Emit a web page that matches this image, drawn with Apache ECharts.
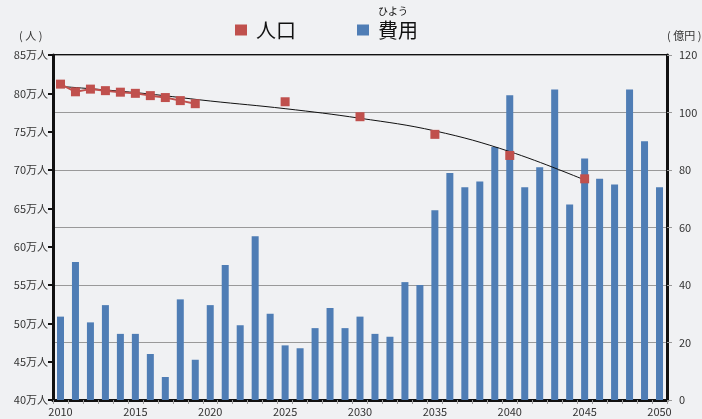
<!DOCTYPE html>
<html>
<head>
<meta charset="utf-8">
<script src="https://cdn.jsdelivr.net/npm/echarts@6/dist/echarts.min.js"></script>
<style>
  html, body { margin: 0; padding: 0; background: #f0f1f3; }
  #chart { width: 702px; height: 419px; }
</style>
</head>
<body>
<div id="chart"></div>
<script>
// Years on the category axis
const years = [];
for (let y = 2010; y <= 2050; y++) years.push(String(y));

// 費用 (億円), one bar per year
const costValues = [
  29, 48, 27, 33, 23, 23, 16, 8, 35, 14,
  33, 47, 26, 57, 30, 19, 18, 25, 32, 25,
  29, 23, 22, 41, 40, 66, 79, 74, 76, 88,
  106, 74, 81, 108, 68, 84, 77, 75, 108, 90,
  74
];

// 人口 (万人): yearly 2010-2019, then every five years
const populationValues = [
  81.2, 80.2, 80.55, 80.35, 80.15, 80.0, 79.7, 79.45, 79.05, 78.65,
  null, null, null, null, null, 78.9, null, null, null, null,
  76.95, null, null, null, null, 74.65, null, null, null, null,
  71.9, null, null, null, null, 68.85, null, null, null, null,
  null
];

// 人口 trend curve, points every five years
const trendValues = [
  80.9, null, null, null, null, 80.1, null, null, null, null,
  79.0, null, null, null, null, 78.0, null, null, null, null,
  76.75, null, null, null, null, 75.1, null, null, null, null,
  72.4, null, null, null, null, 68.7, null, null, null, null,
  null
];

const FONT = '"Noto Sans CJK JP", "Noto Sans", sans-serif';
const chart = echarts.init(document.getElementById('chart'));

chart.setOption({
  backgroundColor: '#f0f1f3',
  animation: false,
  textStyle: { fontFamily: FONT },
  legend: {
    left: 230,
    top: 15,
    itemWidth: 12,
    itemHeight: 11,
    itemGap: 61,
    icon: 'rect',
    textStyle: { fontSize: 20, color: '#111', fontFamily: FONT, padding: [0, 0, 0, 4] },
    data: [
      { name: '人口', itemStyle: { color: '#c0504d' } },
      { name: '費用', itemStyle: { color: '#4f7db5' } }
    ]
  },
  graphic: [
    { type: 'text', left: 378, top: 6, style: { text: 'ひよう', fontSize: 10, fill: '#111', fontFamily: FONT } },
    { type: 'text', left: 19, top: 30, style: { text: '( 人 )', fontSize: 11, fill: '#333', fontFamily: FONT } },
    { type: 'text', left: 667, top: 30, style: { text: '( 億円 )', fontSize: 11, fill: '#333', fontFamily: FONT } }
  ],
  grid: {
    left: 53, right: 35, top: 55, bottom: 19,
    outerBoundsMode: 'none',
    containLabel: false,
    show: true,
    backgroundColor: '#f0f1f3',
    borderColor: '#111',
    borderWidth: 2
  },
  xAxis: {
    type: 'category',
    data: years,
    boundaryGap: true,
    axisLine: { lineStyle: { color: '#111', width: 3 } },
    axisTick: { show: true, interval: 0, length: 4, lineStyle: { color: '#999' } },
    axisLabel: { interval: 4, fontSize: 11, color: '#333', margin: 6 },
    splitLine: { show: false }
  },
  yAxis: [
    {
      type: 'value',
      min: 40, max: 85, interval: 5,
      axisLine: { show: true, lineStyle: { color: '#111', width: 3 } },
      axisTick: { show: true, length: 5, lineStyle: { color: '#111', width: 2 } },
      axisLabel: { formatter: '{value}万人', fontSize: 11, color: '#333', margin: 5 },
      splitLine: { show: false }
    },
    {
      type: 'value',
      min: 0, max: 120, interval: 20,
      axisLine: { show: true, lineStyle: { color: '#111', width: 3 } },
      axisTick: { show: true, length: 5, lineStyle: { color: '#999', width: 1 } },
      axisLabel: { fontSize: 11, color: '#333', margin: 12 },
      splitLine: { show: true, lineStyle: { color: '#999', width: 1 } }
    }
  ],
  series: [
    {
      name: '費用',
      type: 'bar',
      yAxisIndex: 1,
      data: costValues,
      barWidth: 7,
      itemStyle: { color: '#4f7db5' },
      z: 2
    },
    {
      name: 'trend',
      type: 'line',
      yAxisIndex: 0,
      data: trendValues,
      connectNulls: true,
      smooth: 0.4,
      symbol: 'none',
      lineStyle: { color: '#111', width: 1 },
      z: 3,
      silent: true
    },
    {
      name: '人口',
      type: 'line',
      yAxisIndex: 0,
      data: populationValues,
      connectNulls: false,
      showAllSymbol: true,
      symbol: 'rect',
      symbolSize: 9,
      itemStyle: { color: '#c0504d' },
      lineStyle: { color: '#c0504d', width: 2 },
      z: 4
    }
  ]
});
</script>
</body>
</html>
